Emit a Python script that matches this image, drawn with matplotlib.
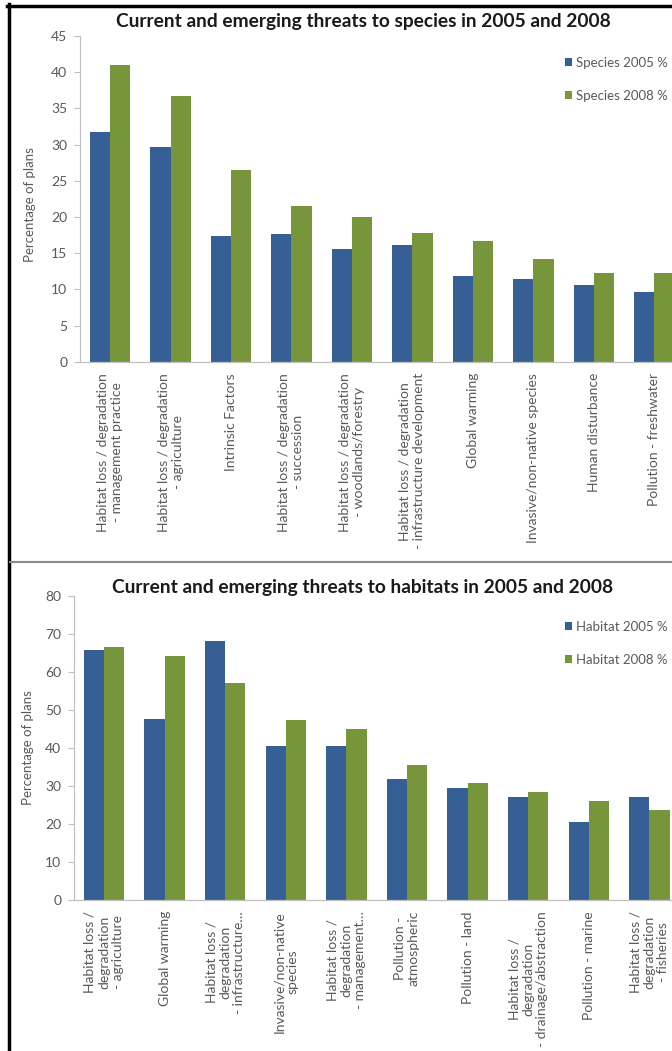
import matplotlib
matplotlib.use("Agg")
import matplotlib.pyplot as plt
from matplotlib.patches import Patch
from matplotlib.lines import Line2D
import numpy as np

plt.rcParams['font.family'] = ['Lato', 'DejaVu Sans']

# Species threats
species_labels = [
    "Habitat loss / degradation\n- management practice",
    "Habitat loss / degradation\n- agriculture",
    "Intrinsic Factors",
    "Habitat loss / degradation\n- succession",
    "Habitat loss / degradation\n- woodlands/forestry",
    "Habitat loss / degradation\n- infrastructure development",
    "Global warming",
    "Invasive/non-native species",
    "Human disturbance",
    "Pollution - freshwater",
]
species_2005 = [31.7, 29.7, 17.4, 17.7, 15.6, 16.1, 11.9, 11.5, 10.6, 9.6]
species_2008 = [41.0, 36.7, 26.5, 21.6, 20.0, 17.8, 16.7, 14.2, 12.3, 12.3]

# Habitat threats
habitat_labels = [
    "Habitat loss /\ndegradation\n- agriculture",
    "Global warming",
    "Habitat loss /\ndegradation\n- infrastructure\u2026",
    "Invasive/non-native\nspecies",
    "Habitat loss /\ndegradation\n- management\u2026",
    "Pollution -\natmospheric",
    "Pollution - land",
    "Habitat loss /\ndegradation\n- drainage/abstraction",
    "Pollution - marine",
    "Habitat loss /\ndegradation\n- fisheries",
]
habitat_2005 = [65.8, 47.7, 68.2, 40.6, 40.6, 31.8, 29.5, 27.2, 20.4, 27.2]
habitat_2008 = [66.7, 64.3, 57.2, 47.4, 45.1, 35.6, 30.7, 28.4, 26.0, 23.6]

BLUE = '#365f95'
GREEN = '#77963b'
TICK_GREY = '#595959'
AXIS_GREY = '#c0c0c0'

W, H = 672, 1051
fig = plt.figure(figsize=(W / 100, H / 100), dpi=100)


def px(x, y):
    return x / W, 1 - y / H


def bar_panel(rect, labels, v05, v08, ymax, step, title, title_y, names, leg_y, ylab_xy):
    ax = fig.add_axes(rect)
    x = np.arange(len(labels))
    w = 1 / 3
    ax.bar(x - w / 2, v05, w, color=BLUE, edgecolor='none')
    ax.bar(x + w / 2, v08, w, color=GREEN, edgecolor='none')
    ax.set_xlim(-0.5, len(labels) - 0.5)
    ax.set_ylim(0, ymax)
    ax.set_yticks(np.arange(0, ymax + 1, step))
    ax.set_xticks(x)
    ax.set_xticklabels(labels, rotation=90, fontsize=10, color=TICK_GREY,
                       multialignment='center', linespacing=1.2)
    ax.tick_params(axis='y', labelsize=10, labelcolor=TICK_GREY, color=AXIS_GREY,
                   length=4, width=0.8, pad=5)
    ax.tick_params(axis='x', length=0, pad=8)
    for s in ['top', 'right']:
        ax.spines[s].set_visible(False)
    for s in ['left', 'bottom']:
        ax.spines[s].set_color(AXIS_GREY)
        ax.spines[s].set_linewidth(0.9)
    fig.text(*px(363, title_y), title, ha='center', va='center',
             fontsize=13.8, fontweight='bold', color='#1a1a1a')
    fig.text(*px(*ylab_xy), "Percentage of plans", rotation=90, ha='center',
             va='center', fontsize=9.5, color=TICK_GREY)
    handles = [Patch(facecolor=BLUE), Patch(facecolor=GREEN)]
    fig.legend(handles, names, loc='upper left', bbox_to_anchor=px(553, leg_y),
               frameon=False, fontsize=9.5, handlelength=0.55, handleheight=0.55,
               handletextpad=0.3, labelspacing=1.6, labelcolor=TICK_GREY)
    return ax


bar_panel([79.8 / W, 1 - 361.9 / H, 604.8 / W, 325.8 / H],
          species_labels, species_2005, species_2008, 45, 5,
          "Current and emerging threats to species in 2005 and 2008", 22,
          ["Species 2005 %", "Species 2008 %"], 45, (30, 205))

bar_panel([73.7 / W, 1 - 900 / H, 606 / W, 304 / H],
          habitat_labels, habitat_2005, habitat_2008, 80, 10,
          "Current and emerging threats to habitats in 2005 and 2008", 588,
          ["Habitat 2005 %", "Habitat 2008 %"], 609, (28, 748))

# outer frame and separator between the two charts
fig.add_artist(Line2D([8.5 / W, 8.5 / W], [0, 1 - 4 / H], color='black', lw=2.5))
fig.add_artist(Line2D([7 / W, 1], [1 - 5.5 / H, 1 - 5.5 / H], color='black', lw=2.5))
fig.add_artist(Line2D([10 / W, 1], [1 - 562 / H, 1 - 562 / H], color='#8a8a8a', lw=1.5))

fig.savefig("out.png", dpi=100)
